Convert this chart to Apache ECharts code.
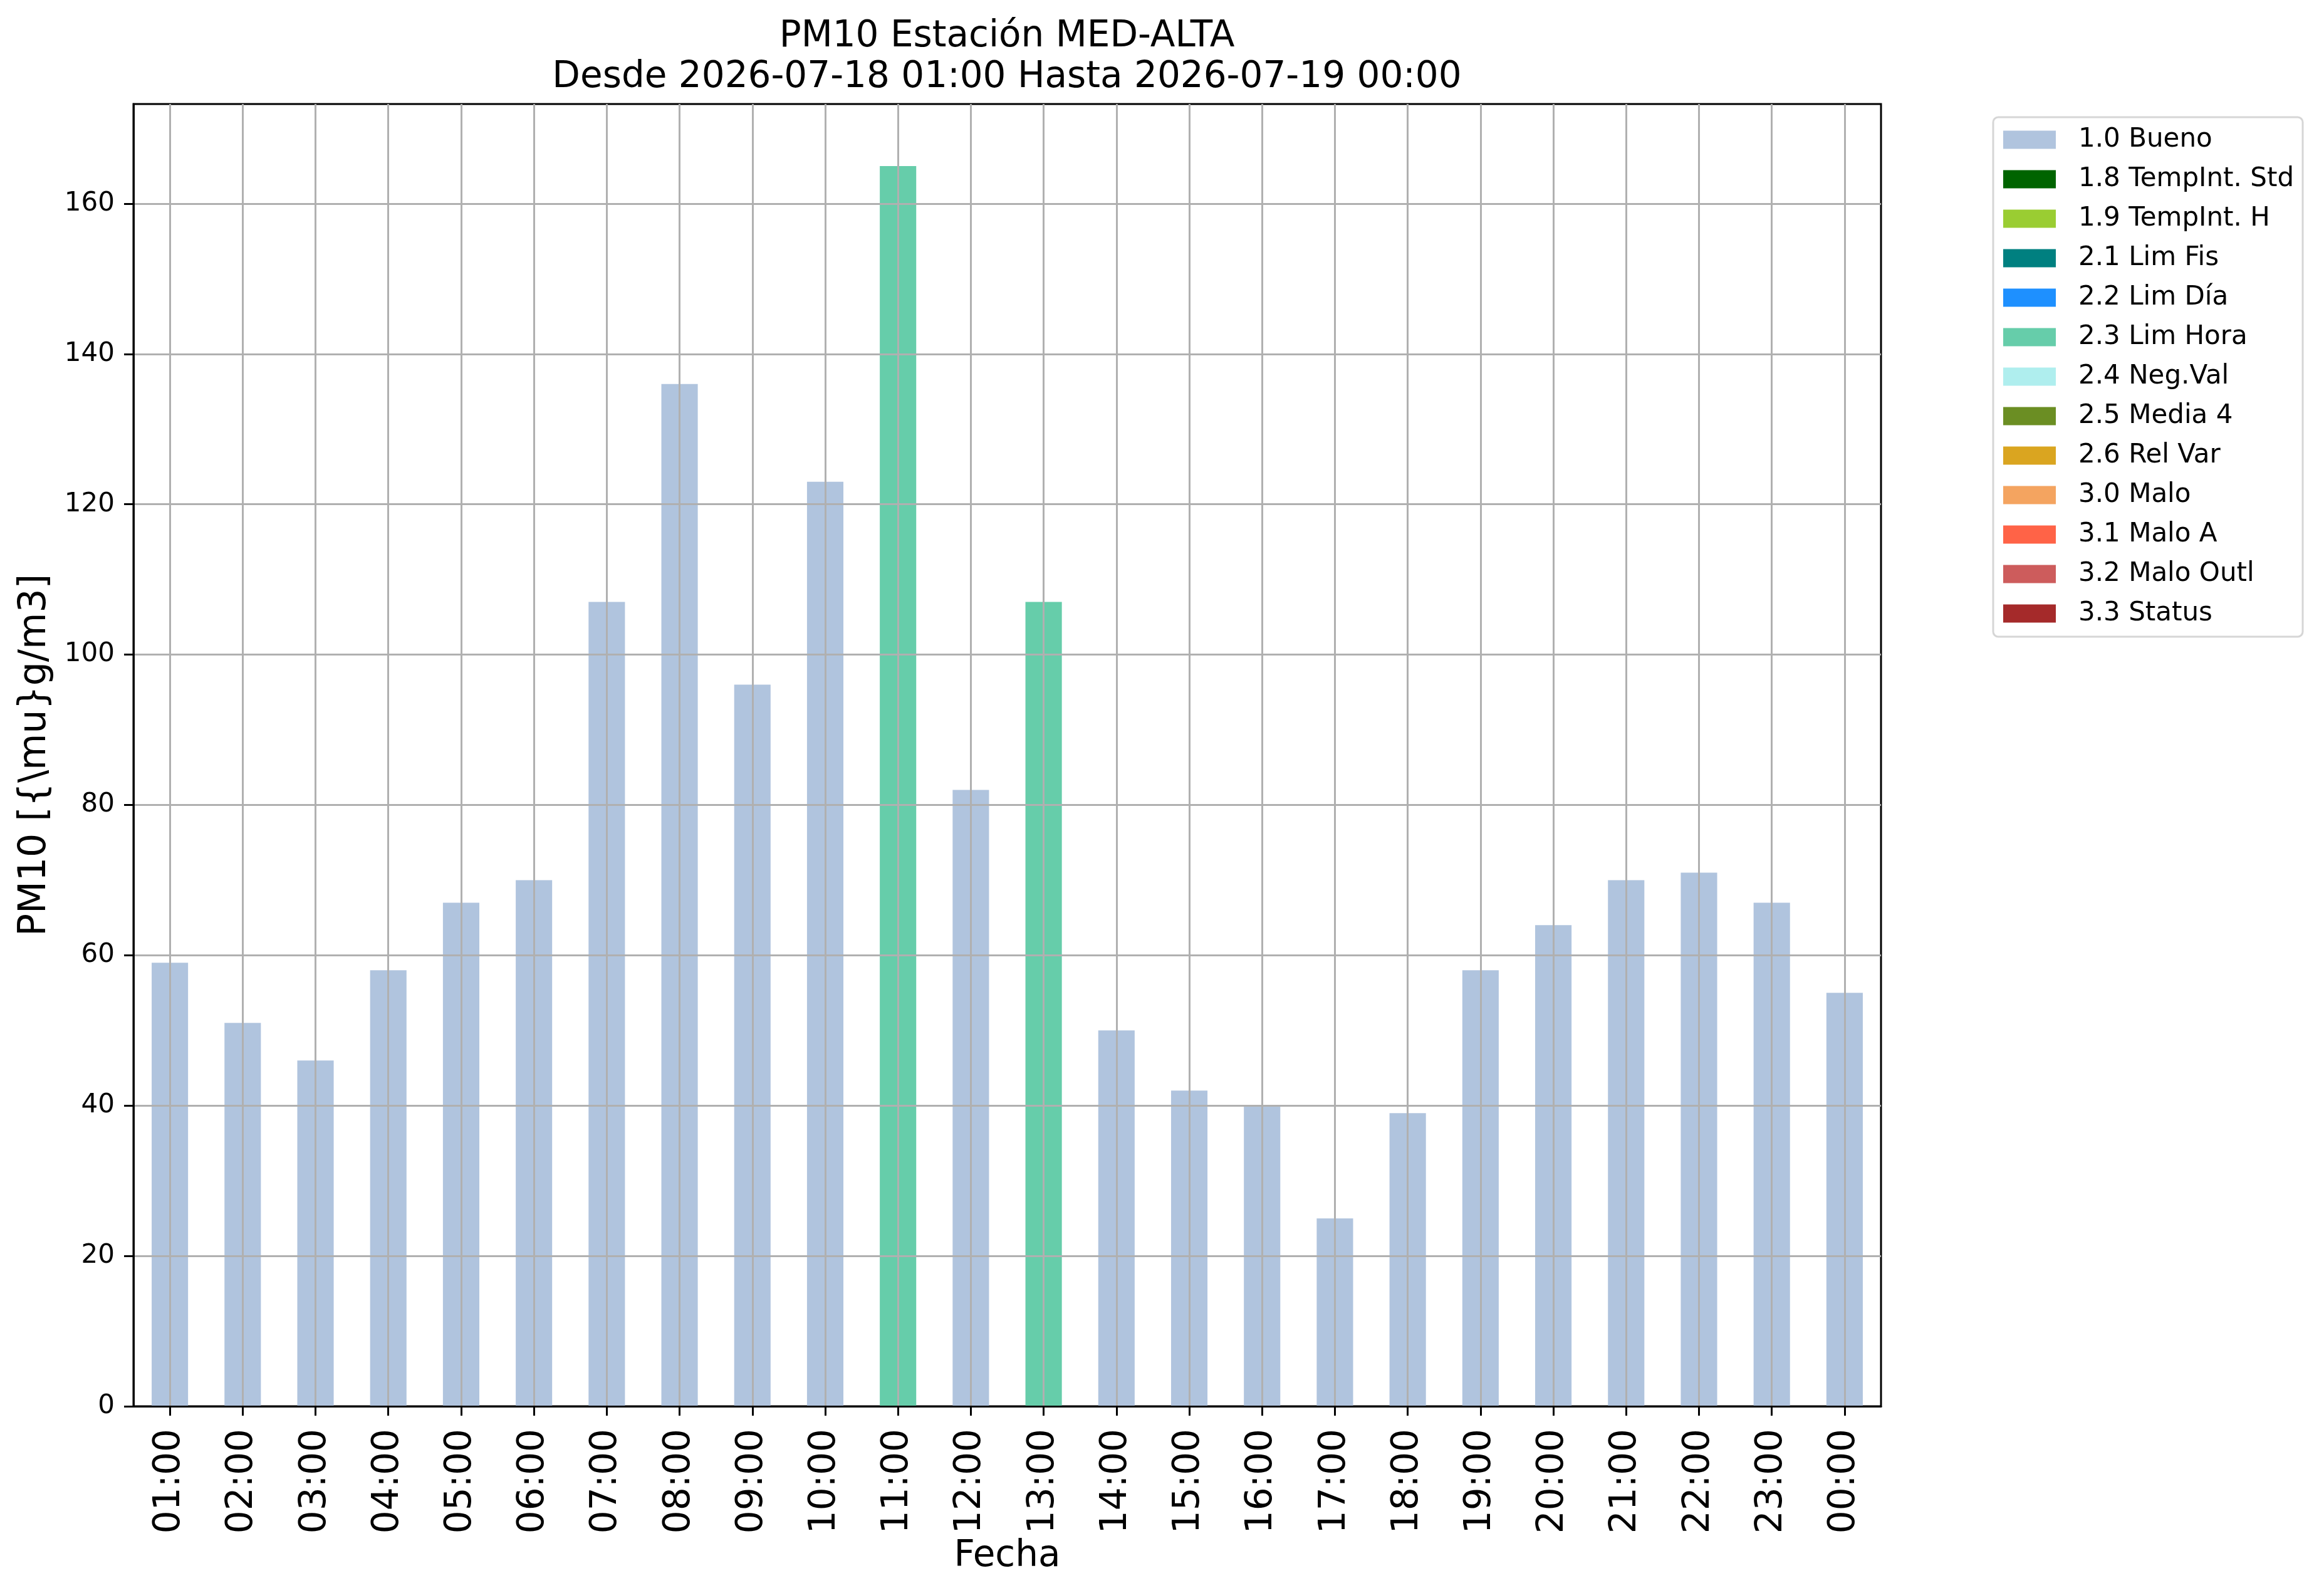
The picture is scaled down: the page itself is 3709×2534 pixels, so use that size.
<!DOCTYPE html>
<html>
<head>
<meta charset="utf-8">
<script src="https://cdn.jsdelivr.net/npm/echarts@6/dist/echarts.min.js"></script>
<style>
html, body { margin: 0; padding: 0; background: #fff; }
#chart { width: 3709px; height: 2534px; }
</style>
</head>
<body>
<div id="chart"></div>
<script>
// horas del dia
var horas = ['01:00','02:00','03:00','04:00','05:00','06:00','07:00','08:00','09:00','10:00','11:00','12:00',
             '13:00','14:00','15:00','16:00','17:00','18:00','19:00','20:00','21:00','22:00','23:00','00:00'];
// valores por bandera (null = sin dato en esa bandera)
var bueno   = [59, 51, 46, 58, 67, 70, 107, 136, 96, 123, null, 82, null, 50, 42, 40, 25, 39, 58, 64, 70, 71, 67, 55];
var limHora = [null, null, null, null, null, null, null, null, null, null, 165, null, 107, null, null, null, null, null, null, null, null, null, null, null];
var flags = ['1.0 Bueno','1.8 TempInt. Std','1.9 TempInt. H','2.1 Lim Fis','2.2 Lim Día','2.3 Lim Hora',
             '2.4 Neg.Val','2.5 Media 4','2.6 Rel Var','3.0 Malo','3.1 Malo A','3.2 Malo Outl','3.3 Status'];
var colores = ['#b0c4de','#006400','#9acd32','#008080','#1e90ff','#66cdaa',
               '#afeeee','#6b8e23','#daa520','#f4a460','#ff6347','#cd5c5c','#a52a2a'];
var yTicks = [0, 20, 40, 60, 80, 100, 120, 140, 160];
var yMax = 173.25;

var datos = {'1.0 Bueno': bueno, '2.3 Lim Hora': limHora};
var font = 'DejaVu Sans';

var chart = echarts.init(document.getElementById('chart'));
var series = flags.map(function (f, i) {
    return {
        name: f,
        type: 'bar',
        stack: 'total',
        barWidth: '50%',
        z: 1,
        itemStyle: { color: colores[i], borderWidth: 0 },
        data: datos[f] || horas.map(function () { return null; })
    };
});

option = {
    animation: false,
    backgroundColor: '#fff',
    color: colores,
    textStyle: { fontFamily: font },
    title: {
        text: 'PM10 Estación MED-ALTA\nDesde 2026-07-18 01:00 Hasta 2026-07-19 00:00',
        left: 1607,
        top: 26,
        padding: 0,
        textAlign: 'center',
        textStyle: { fontFamily: font, fontSize: 58, fontWeight: 'normal', lineHeight: 65, color: '#000' }
    },
    legend: {
        orient: 'vertical',
        left: 3181,
        top: 187,
        padding: [15, 14, 16, 16],
        itemWidth: 84,
        itemHeight: 29,
        itemGap: 21,
        borderColor: '#d6d6d6',
        borderWidth: 3,
        borderRadius: 8,
        backgroundColor: '#fff',
        icon: 'rect',
        data: flags,
        textStyle: { fontFamily: font, fontSize: 42, lineHeight: 42, color: '#000', padding: [0, 0, 0, 31] }
    },
    grid: {
        left: 213,
        right: 707,
        top: 166,
        bottom: 290,
        show: true,
        borderColor: '#000',
        borderWidth: 3,
        containLabel: false
    },
    xAxis: {
        type: 'category',
        data: horas,
        z: 3,
        name: 'Fecha',
        nameLocation: 'middle',
        nameGap: 192,
        nameTextStyle: { fontFamily: font, fontSize: 58, color: '#000' },
        axisLine: { show: true, lineStyle: { color: '#000', width: 3 } },
        axisTick: { show: true, alignWithLabel: true, length: 15, lineStyle: { color: '#000', width: 3 } },
        axisLabel: { rotate: 90, margin: 36, fontFamily: font, fontSize: 58, color: '#000', interval: 0 },
        splitLine: { show: true, alignWithLabel: true, interval: 0, lineStyle: { color: '#b0b0b0', width: 3 } }
    },
    yAxis: {
        type: 'value',
        min: 0,
        max: yMax,
        interval: 20,
        z: 3,
        name: 'PM10 [{\\mu}g/m3]',
        nameLocation: 'middle',
        nameGap: 127,
        nameTextStyle: { fontFamily: font, fontSize: 60, color: '#000' },
        axisLine: { show: true, lineStyle: { color: '#000', width: 3 } },
        axisTick: { show: true, length: 15, customValues: yTicks, lineStyle: { color: '#000', width: 3 } },
        axisLabel: { margin: 30, fontFamily: font, fontSize: 42, color: '#000', customValues: yTicks },
        splitLine: { show: true, lineStyle: { color: '#b0b0b0', width: 3 } }
    },
    series: series
};
chart.setOption(option);
</script>
</body>
</html>
